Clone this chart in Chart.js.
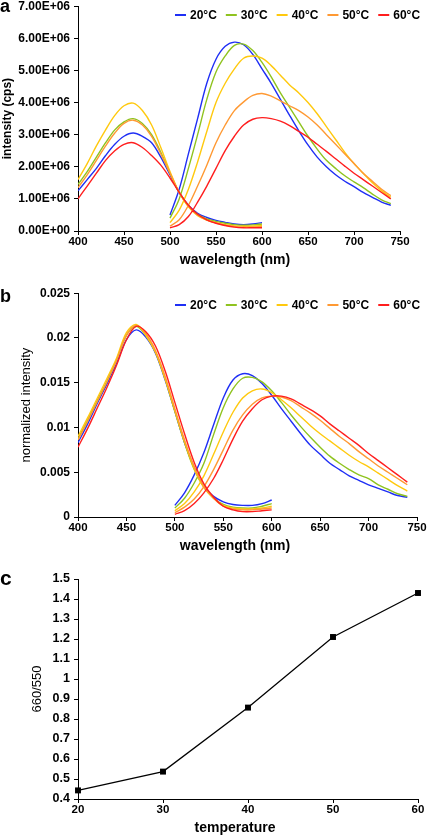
<!DOCTYPE html>
<html>
<head>
<meta charset="utf-8">
<script src="https://cdn.jsdelivr.net/npm/chart.js@4/dist/chart.umd.min.js"></script>
<style>
  html, body { margin: 0; padding: 0; background: #fff; }
  body { width: 427px; height: 837px; position: relative; overflow: hidden; }
  canvas { position: absolute; left: 0; }
</style>
</head>
<body>
<canvas id="chartA" width="427" height="285" style="top:-5px"></canvas>
<canvas id="chartB" width="427" height="275" style="top:282px"></canvas>
<canvas id="chartC" width="427" height="275" style="top:562px"></canvas>
<script>
// wavelengths (nm) of the two measured segments
const wlLeft = [400,410,420,430,440,450,460,470,480,490,500,510,520,530,540,550,560,570,580,590,600];
const wlRight = [500,510,520,530,540,550,560,570,580,590,600,610,620,630,640,650,660,670,680,690,700,710,720,730,740];
const tempLabels = ['20°C','30°C','40°C','50°C','60°C'];
const tempColors = ['#1f2ff5','#8fc31f','#ffc90e','#ff9933','#ff1e1e'];

// panel a: intensity, in millions of cps
const aLeft20 = [1.25,1.6,1.95,2.35,2.7,2.95,3.05,2.95,2.75,2.3,1.75,1.2,0.8,0.55,0.42,0.33,0.27,0.22,0.2,0.22,0.26];
const aLeft30 = [1.45,1.85,2.3,2.75,3.15,3.4,3.5,3.35,3.0,2.45,1.8,1.2,0.78,0.52,0.38,0.3,0.24,0.2,0.18,0.19,0.22];
const aLeft40 = [1.6,2.1,2.65,3.15,3.6,3.9,3.98,3.75,3.3,2.6,1.85,1.2,0.75,0.48,0.34,0.26,0.2,0.16,0.15,0.15,0.17];
const aLeft50 = [1.35,1.75,2.2,2.65,3.05,3.35,3.45,3.3,2.95,2.4,1.8,1.2,0.78,0.5,0.34,0.25,0.18,0.14,0.12,0.12,0.14];
const aLeft60 = [1.0,1.4,1.8,2.2,2.5,2.7,2.75,2.6,2.35,2.05,1.65,1.2,0.8,0.52,0.35,0.24,0.17,0.12,0.1,0.1,0.1];
const aRight20 = [0.5,1.3,2.4,3.5,4.6,5.35,5.75,5.88,5.8,5.5,5.05,4.6,4.1,3.6,3.12,2.68,2.3,2.0,1.75,1.55,1.38,1.2,1.05,0.9,0.8];
const aRight30 = [0.4,1.0,1.95,3.0,4.1,4.95,5.45,5.78,5.82,5.62,5.25,4.8,4.3,3.85,3.4,2.95,2.55,2.2,1.95,1.72,1.53,1.35,1.15,0.97,0.85];
const aRight40 = [0.26,0.65,1.3,2.15,3.1,4.0,4.6,5.05,5.38,5.45,5.38,5.15,4.85,4.55,4.3,4.0,3.65,3.25,2.85,2.45,2.1,1.8,1.5,1.25,1.05];
const aRight50 = [0.15,0.35,0.8,1.4,2.05,2.75,3.3,3.75,4.02,4.22,4.28,4.2,4.05,3.9,3.75,3.55,3.3,3.0,2.7,2.4,2.1,1.8,1.55,1.3,1.1];
const aRight60 = [0.1,0.2,0.45,0.9,1.4,1.95,2.5,2.95,3.3,3.48,3.53,3.5,3.42,3.28,3.1,2.92,2.7,2.48,2.25,2.02,1.8,1.6,1.4,1.2,1.0];

// panel b: normalized intensity
const bLeft20 = [0.0083,0.0104,0.0127,0.0149,0.0172,0.0198,0.0209,0.0201,0.0183,0.0153,0.0118,0.0083,0.0055,0.0034,0.0023,0.0017,0.0014,0.0013,0.0013,0.0015,0.0019];
const bLeft30 = [0.0087,0.0108,0.013,0.0152,0.0176,0.0203,0.0213,0.0203,0.0184,0.0154,0.0118,0.0083,0.0053,0.0033,0.0021,0.0014,0.0011,0.001,0.001,0.0012,0.0015];
const bLeft40 = [0.009,0.0111,0.0133,0.0155,0.0178,0.0206,0.0215,0.0203,0.0184,0.0154,0.0119,0.0084,0.0054,0.0033,0.0021,0.0013,0.001,0.0009,0.0009,0.001,0.0012];
const bLeft50 = [0.0086,0.0107,0.0129,0.0151,0.0175,0.0203,0.0214,0.0205,0.0186,0.0157,0.0121,0.0086,0.0056,0.0034,0.0021,0.0012,0.0009,0.0008,0.0008,0.0009,0.001];
const bLeft60 = [0.0078,0.0099,0.0122,0.0145,0.017,0.0198,0.0213,0.0207,0.0191,0.0163,0.0128,0.0093,0.0061,0.0037,0.0022,0.0012,0.0008,0.0006,0.0006,0.0007,0.0008];
const bRight20 = [0.0013,0.0027,0.0047,0.0072,0.0103,0.0133,0.0153,0.016,0.0158,0.0149,0.0136,0.0121,0.0107,0.0093,0.008,0.007,0.006,0.0053,0.0046,0.0041,0.0036,0.0032,0.0028,0.0024,0.0022];
const bRight30 = [0.001,0.0021,0.0038,0.006,0.0092,0.0122,0.0143,0.0155,0.0156,0.0151,0.0141,0.0128,0.0114,0.0101,0.0089,0.0078,0.0068,0.006,0.0053,0.0047,0.0043,0.0036,0.0031,0.0026,0.0023];
const bRight40 = [0.0007,0.0015,0.0028,0.0046,0.007,0.0095,0.0117,0.0133,0.0141,0.0143,0.0139,0.0131,0.0122,0.0112,0.0102,0.0093,0.0085,0.0077,0.0069,0.0062,0.0056,0.0049,0.0042,0.0035,0.0029];
const bRight50 = [0.0005,0.0011,0.002,0.0034,0.0053,0.0075,0.0097,0.0114,0.0126,0.0133,0.0135,0.0134,0.013,0.0123,0.0116,0.0108,0.0099,0.009,0.0082,0.0073,0.0065,0.0057,0.005,0.0043,0.0036];
const bRight60 = [0.0003,0.0007,0.0015,0.0027,0.0043,0.0064,0.0087,0.0107,0.0121,0.0131,0.0135,0.0135,0.0132,0.0126,0.012,0.0113,0.0104,0.0096,0.0088,0.008,0.0071,0.0063,0.0055,0.0047,0.0039];

// panel c: ratio 660/550 vs temperature
const temps = [20,30,40,50,60];
const ratio = [0.443,0.537,0.857,1.21,1.43];

const FONT = "'Liberation Sans', Arial, sans-serif";

function sci(v){
	if (v === 0) return '0.00E+00';
	const e = Math.floor(Math.log10(Math.abs(v)) + 1e-9);
	const m = v / Math.pow(10, e);
	return m.toFixed(2) + 'E' + (e < 0 ? '-' : '+') + String(Math.abs(e)).padStart(2, '0');
}
function plain(v){ return String(+v.toFixed(4)); }

// left + right segment in one dataset, broken by a null point
function segments(xl, yl, xr, yr, k){
	const pts = xl.map((x, i) => ({x: x, y: yl[i] * k}));
	pts.push({x: xl[xl.length - 1], y: null});
	return pts.concat(xr.map((x, i) => ({x: x, y: yr[i] * k})));
}

function spectra(lefts, rights, k){
	return tempLabels.map((lab, i) => ({
		label: lab,
		data: segments(wlLeft, lefts[i], wlRight, rights[i], k),
		borderColor: tempColors[i],
		borderWidth: 1.4,
		pointRadius: 0,
		tension: 0.35,
		spanGaps: false,
		order: 4 - i
	}));
}

// panel letter, x title and legend drawn where the original has them
const panelText = {
	id: 'panelText',
	afterDraw(chart, args, o){
		const ctx = chart.ctx;
		ctx.save();
		ctx.fillStyle = '#000';
		ctx.textBaseline = 'alphabetic';
		ctx.textAlign = 'left';
		ctx.font = 'bold ' + o.letterSize + 'px ' + FONT;
		ctx.fillText(o.letter, 0, o.letterY);
		ctx.font = 'bold 14px ' + FONT;
		ctx.textAlign = 'center';
		ctx.fillText(o.xTitle, 235, o.xTitleY);
		if (o.legendY != null){
			ctx.font = 'bold 12px ' + FONT;
			ctx.textAlign = 'left';
			ctx.textBaseline = 'middle';
			let x = 175;
			chart.data.datasets.forEach(ds => {
				ctx.strokeStyle = ds.borderColor;
				ctx.lineWidth = 2;
				ctx.beginPath();
				ctx.moveTo(x, o.legendY);
				ctx.lineTo(x + 11, o.legendY);
				ctx.stroke();
				ctx.fillText(ds.label, x + 15, o.legendY + 1);
				x += 15 + ctx.measureText(ds.label).width + 9;
			});
		}
		ctx.restore();
	}
};

function axes(xMin, xMax, xStep, yMin, yMax, yStep, yFmt, yTitle, yTitleFont, yTitlePad, xHeight, xPad, yFontSize){
	const tickGrid = { display: true, drawOnChartArea: false, drawTicks: true, tickLength: 4, color: '#000' };
	return {
		x: {
			type: 'linear', min: xMin, max: xMax,
			grid: tickGrid,
			border: { display: true, color: '#000', width: 1 },
			ticks: { stepSize: xStep, autoSkip: false, maxRotation: 0, padding: xPad, color: '#000', font: { family: FONT, size: 11.5, weight: 'bold' } },
			afterFit: s => { s.height = xHeight; }
		},
		y: {
			min: yMin, max: yMax,
			grid: tickGrid,
			border: { display: true, color: '#000', width: 1 },
			ticks: { stepSize: yStep, padding: 4, color: '#000', font: { family: FONT, size: yFontSize, weight: 'bold' }, callback: yFmt },
			title: { display: true, text: yTitle, color: '#000', font: yTitleFont, padding: { top: yTitlePad, bottom: 0 } },
			afterFit: s => { s.width = 78; }
		}
	};
}

const base = { responsive: false, animation: false, devicePixelRatio: 1, events: [] };

new Chart(document.getElementById('chartA'), {
	type: 'line',
	data: { datasets: spectra([aLeft20,aLeft30,aLeft40,aLeft50,aLeft60], [aRight20,aRight30,aRight40,aRight50,aRight60], 1e6) },
	options: Object.assign({}, base, {
		layout: { padding: { top: 10, right: 27, left: 0, bottom: 0 } },
		scales: axes(400, 750, 50, 0, 7e6, 1e6, sci, 'intensity (cps)', { family: FONT, size: 12, weight: 'bold' }, 0, 49, 0, 12),
		plugins: { legend: { display: false }, tooltip: { enabled: false },
			panelText: { letter: 'a', letterSize: 18, letterY: 17, xTitle: 'wavelength (nm)', xTitleY: 269, legendY: 20 } }
	}),
	plugins: [panelText]
});

new Chart(document.getElementById('chartB'), {
	type: 'line',
	data: { datasets: spectra([bLeft20,bLeft30,bLeft40,bLeft50,bLeft60], [bRight20,bRight30,bRight40,bRight50,bRight60], 1) },
	options: Object.assign({}, base, {
		layout: { padding: { top: 10, right: 10, left: 0, bottom: 0 } },
		scales: axes(400, 750, 50, 0, 0.025, 0.005, plain, 'normalized intensity', { family: FONT, size: 13 }, 19, 40, 0, 12),
		plugins: { legend: { display: false }, tooltip: { enabled: false },
			panelText: { letter: 'b', letterSize: 18, letterY: 20, xTitle: 'wavelength (nm)', xTitleY: 268, legendY: 23 } }
	}),
	plugins: [panelText]
});

new Chart(document.getElementById('chartC'), {
	type: 'line',
	data: { datasets: [{
		label: '660/550',
		data: temps.map((t, i) => ({x: t, y: ratio[i]})),
		borderColor: '#000', borderWidth: 1.3,
		pointStyle: 'rect', pointRadius: 4.2, pointBackgroundColor: '#000', pointBorderColor: '#000', pointBorderWidth: 0,
		tension: 0,
		clip: false
	}] },
	options: Object.assign({}, base, {
		layout: { padding: { top: 17, right: 9, left: 0, bottom: 0 } },
		scales: axes(20, 60, 10, 0.4, 1.5, 0.1, plain, '660/550', { family: FONT, size: 13 }, 30, 38, 0, 12.5),
		plugins: { legend: { display: false }, tooltip: { enabled: false },
			panelText: { letter: 'c', letterSize: 21, letterY: 23, xTitle: 'temperature', xTitleY: 270, legendY: null } }
	}),
	plugins: [panelText]
});
</script>
</body>
</html>
